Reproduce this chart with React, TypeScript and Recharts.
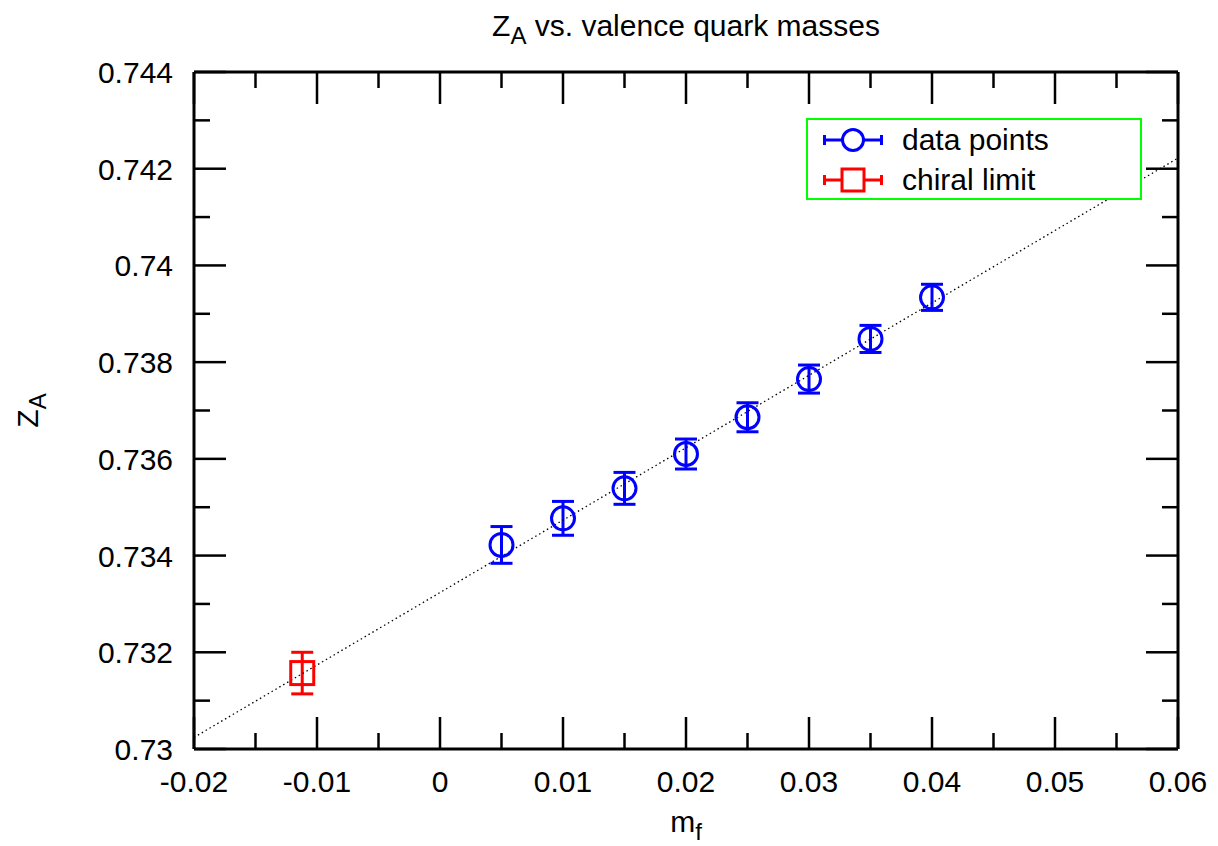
import React from 'react'
import { ScatterChart, Scatter, XAxis, YAxis, ErrorBar, Legend } from 'recharts'

// valence quark masses and measured Z_A
const mf = [0.005, 0.01, 0.015, 0.02, 0.025, 0.03, 0.035, 0.04]
const za = [0.73422, 0.73477, 0.73539, 0.7361, 0.73686, 0.73765, 0.73848, 0.73934]
const zaErr = [0.00038, 0.00035, 0.00033, 0.00031, 0.0003, 0.00029, 0.00028, 0.00027]

// extrapolated chiral limit
const chiralM = [-0.0112]
const chiralZ = [0.73157]
const chiralErr = [0.00043]

// linear fit endpoints
const fitM = [-0.02, 0.06]
const fitZ = [0.73024, 0.74222]

const xTicks = [
  -0.02, -0.015, -0.01, -0.005, 0, 0.005, 0.01, 0.015, 0.02, 0.025, 0.03, 0.035, 0.04, 0.045,
  0.05, 0.055, 0.06,
]
const yTicks = [
  0.73, 0.731, 0.732, 0.733, 0.734, 0.735, 0.736, 0.737, 0.738, 0.739, 0.74, 0.741, 0.742,
  0.743, 0.744,
]

const seriesNames = ['data points', 'chiral limit']

const dataPoints = mf.map((m, i) => ({ m, z: za[i], err: zaErr[i] }))
const chiralPoints = chiralM.map((m, i) => ({ m, z: chiralZ[i], err: chiralErr[i] }))
const fitPoints = fitM.map((m, i) => ({ m, z: fitZ[i] }))

const font = "'Liberation Sans', Arial, sans-serif"
const BLUE = '#0000ff'
const RED = '#ff0000'
const MAJOR = 32
const MINOR = 16
const TICK_W = 2.5

const isMajorX = (v: number) => Math.round(v * 1000) % 10 === 0
const isMajorY = (v: number) => Math.round(v * 10000) % 20 === 0
const fmtX = (v: number) => String(+v.toFixed(2))
const fmtY = (v: number) => String(+v.toFixed(3))

function BottomTick({ x, y, payload }: any) {
  const major = isMajorX(payload.value)
  return (
    <g>
      <line x1={x} x2={x} y1={y} y2={y - (major ? MAJOR : MINOR)} stroke="#000" strokeWidth={TICK_W} />
      {major && (
        <text x={x} y={y + 43} textAnchor="middle" fontSize={30} fontFamily={font} fill="#000">
          {fmtX(payload.value)}
        </text>
      )}
    </g>
  )
}

function TopTick({ x, y, payload }: any) {
  const major = isMajorX(payload.value)
  return <line x1={x} x2={x} y1={y} y2={y + (major ? MAJOR : MINOR)} stroke="#000" strokeWidth={TICK_W} />
}

function LeftTick({ x, y, payload }: any) {
  const major = isMajorY(payload.value)
  return (
    <g>
      <line x1={x} x2={x + (major ? MAJOR : MINOR)} y1={y} y2={y} stroke="#000" strokeWidth={TICK_W} />
      {major && (
        <text x={x - 21} y={y + 11} textAnchor="end" fontSize={30} fontFamily={font} fill="#000">
          {fmtY(payload.value)}
        </text>
      )}
    </g>
  )
}

function RightTick({ x, y, payload }: any) {
  const major = isMajorY(payload.value)
  return <line x1={x} x2={x - (major ? MAJOR : MINOR)} y1={y} y2={y} stroke="#000" strokeWidth={TICK_W} />
}

function Title({ viewBox }: any) {
  const cx = viewBox ? viewBox.x + viewBox.width / 2 : 686
  return (
    <text x={cx} y={36} textAnchor="middle" fontSize={30} fontFamily={font} fill="#000">
      Z<tspan dy={8} fontSize={24}>A</tspan>
      <tspan dy={-8}> vs. valence quark masses</tspan>
    </text>
  )
}

function XTitle({ viewBox }: any) {
  const cx = viewBox ? viewBox.x + viewBox.width / 2 : 686
  return (
    <text x={cx} y={832} textAnchor="middle" fontSize={30} fontFamily={font} fill="#000">
      m<tspan dy={8} fontSize={24}>f</tspan>
    </text>
  )
}

function YTitle({ viewBox }: any) {
  const cy = viewBox ? viewBox.y + viewBox.height / 2 : 411
  const bx = 38
  return (
    <text
      x={bx}
      y={cy}
      transform={`rotate(-90 ${bx} ${cy})`}
      textAnchor="middle"
      fontSize={30}
      fontFamily={font}
      fill="#000"
    >
      Z<tspan dy={8} fontSize={24}>A</tspan>
    </text>
  )
}

const CircleShape = ({ cx, cy }: any) => (
  <circle cx={cx} cy={cy} r={11.5} fill="none" stroke={BLUE} strokeWidth={3} />
)
const SquareShape = ({ cx, cy }: any) => (
  <rect x={cx - 11.5} y={cy - 11.5} width={23} height={23} fill="none" stroke={RED} strokeWidth={3} />
)
const NoShape = () => <g />

function LegendBox() {
  const rows = [
    { name: seriesNames[0], color: BLUE, y: 22, shape: 'circle' },
    { name: seriesNames[1], color: RED, y: 62, shape: 'square' },
  ]
  return (
    <div style={{ width: 336, height: 82, border: '2px solid #00ff00', boxSizing: 'border-box', background: '#fff' }}>
      <svg width={332} height={78} style={{ display: 'block' }}>
        {rows.map((r) => (
          <g key={r.name} transform="translate(-2,-2)">
            <line x1={17} x2={77} y1={r.y} y2={r.y} stroke={r.color} strokeWidth={3} />
            <line x1={18.5} x2={18.5} y1={r.y - 5} y2={r.y + 5} stroke={r.color} strokeWidth={3} />
            <line x1={75.5} x2={75.5} y1={r.y - 5} y2={r.y + 5} stroke={r.color} strokeWidth={3} />
            {r.shape === 'circle' ? (
              <circle cx={47} cy={r.y} r={10.5} fill="#fff" stroke={r.color} strokeWidth={3} />
            ) : (
              <rect x={36} y={r.y - 11} width={22} height={22} fill="#fff" stroke={r.color} strokeWidth={3} />
            )}
            <text x={96} y={r.y + 10} fontSize={30} fontFamily={font} fill="#000">
              {r.name}
            </text>
          </g>
        ))}
      </svg>
    </div>
  )
}

export default function App() {
  return (
    <div style={{ position: 'absolute', left: 0, top: 0, background: '#fff' }}>
      <ScatterChart width={1218} height={846} margin={{ top: 71, right: 39, bottom: 37, left: 94 }}>
        <XAxis
          type="number"
          dataKey="m"
          domain={[-0.02, 0.06]}
          allowDataOverflow
          ticks={xTicks}
          interval={0}
          tickSize={0}
          tickMargin={0}
          tickLine={false}
          tick={<BottomTick />}
          height={60}
          axisLine={{ stroke: '#000', strokeWidth: 3 }}
          label={{ content: <XTitle /> }}
        />
        <XAxis
          xAxisId="top"
          orientation="top"
          type="number"
          dataKey="m"
          domain={[-0.02, 0.06]}
          allowDataOverflow
          ticks={xTicks}
          interval={0}
          tickSize={0}
          tickMargin={0}
          tickLine={false}
          tick={<TopTick />}
          height={1}
          axisLine={{ stroke: '#000', strokeWidth: 3 }}
          label={{ content: <Title /> }}
        />
        <YAxis
          type="number"
          dataKey="z"
          domain={[0.73, 0.744]}
          allowDataOverflow
          ticks={yTicks}
          interval={0}
          tickSize={0}
          tickMargin={0}
          tickLine={false}
          tick={<LeftTick />}
          width={100}
          axisLine={{ stroke: '#000', strokeWidth: 3 }}
          label={{ content: <YTitle /> }}
        />
        <YAxis
          yAxisId="right"
          orientation="right"
          type="number"
          dataKey="z"
          domain={[0.73, 0.744]}
          allowDataOverflow
          ticks={yTicks}
          interval={0}
          tickSize={0}
          tickMargin={0}
          tickLine={false}
          tick={<RightTick />}
          width={1}
          axisLine={{ stroke: '#000', strokeWidth: 3 }}
        />
        <Scatter
          name="fit"
          data={fitPoints}
          line={{ stroke: '#000', strokeWidth: 1.3, strokeDasharray: '1.5 3' }}
          shape={<NoShape />}
          legendType="none"
          isAnimationActive={false}
        />
        <Scatter name={seriesNames[0]} data={dataPoints} shape={<CircleShape />} isAnimationActive={false}>
          <ErrorBar dataKey="err" direction="y" width={11} stroke={BLUE} strokeWidth={3} isAnimationActive={false} />
        </Scatter>
        <Scatter name={seriesNames[1]} data={chiralPoints} shape={<SquareShape />} isAnimationActive={false}>
          <ErrorBar dataKey="err" direction="y" width={11} stroke={RED} strokeWidth={3} isAnimationActive={false} />
        </Scatter>
        <Legend
          layout="vertical"
          align="center"
          verticalAlign="middle"
          content={<LegendBox />}
          wrapperStyle={{ position: 'absolute', left: 806, top: 118, width: 336, height: 82 }}
        />
      </ScatterChart>
    </div>
  )
}
